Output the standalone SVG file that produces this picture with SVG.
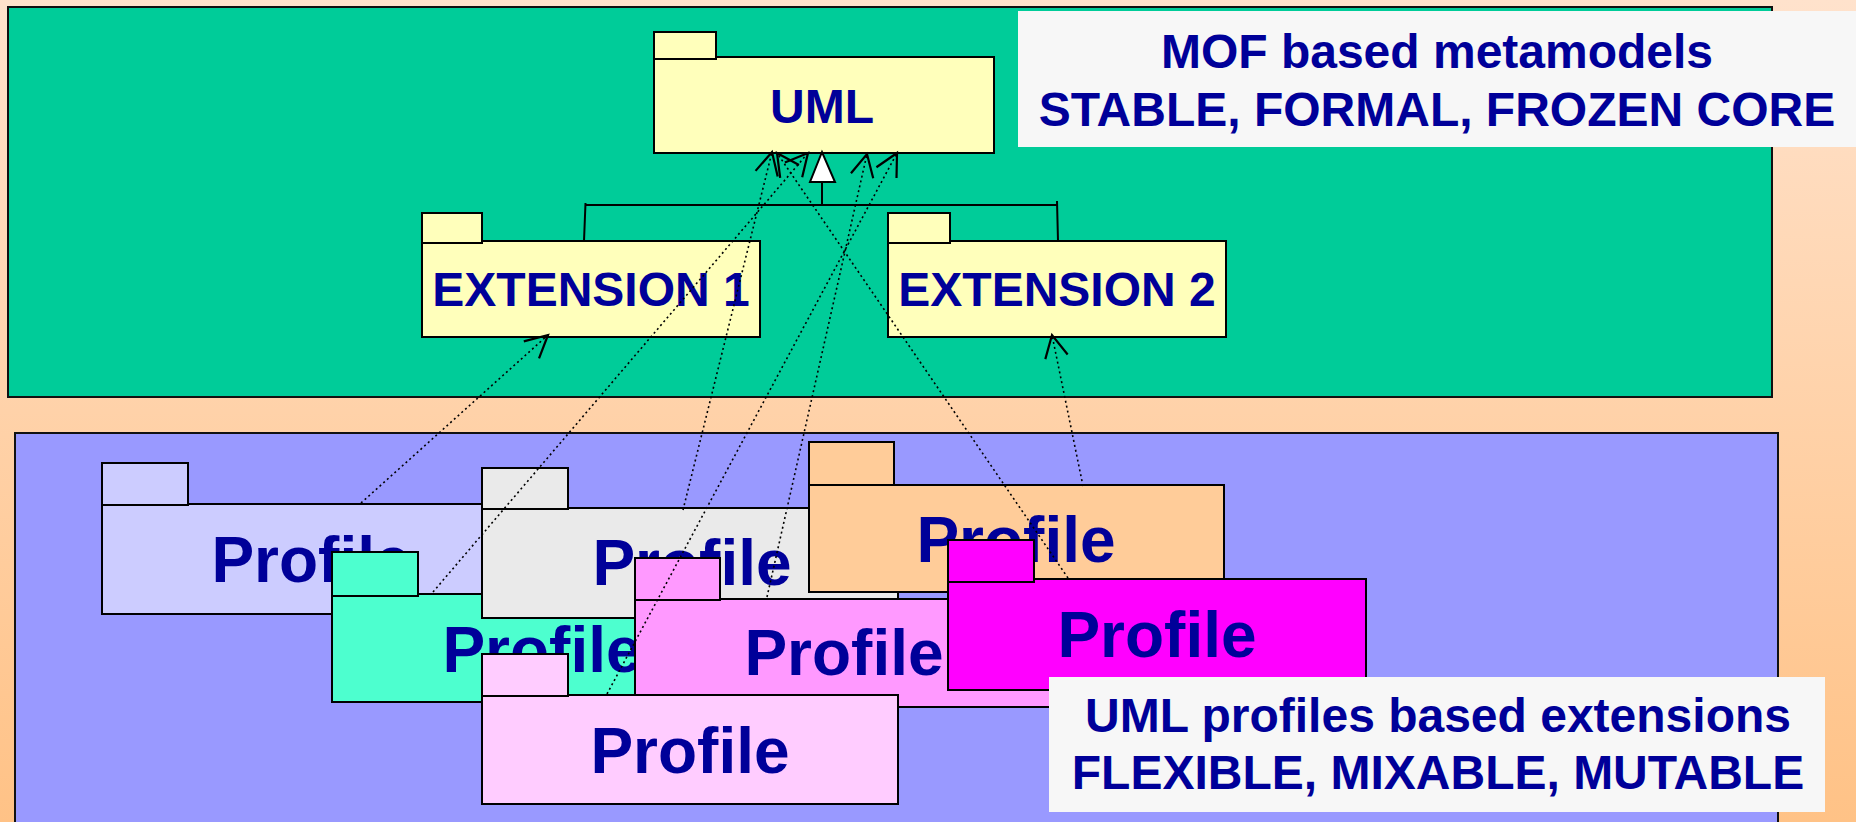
<svg xmlns="http://www.w3.org/2000/svg" width="1856" height="822" viewBox="0 0 1856 822">
  <defs>
    <linearGradient id="bg" x1="0" y1="0" x2="0" y2="1">
      <stop offset="0" stop-color="#FFE2CC"/>
      <stop offset="1" stop-color="#FFC286"/>
    </linearGradient>
    <!-- open "V" arrowhead for dependency arrows -->
    <marker id="open" markerUnits="userSpaceOnUse" viewBox="-30 -16 34 32" markerWidth="34" markerHeight="32" refX="0" refY="0" orient="auto" overflow="visible">
      <path d="M-22.3,-11.4 L0,0 L-22.3,11.4" fill="none" stroke="#000" stroke-width="2.2" stroke-dasharray="none" stroke-linejoin="miter"/>
    </marker>
    <style>
      .panel { stroke: #111; stroke-width: 2; }
      .pkg rect { stroke: #000; stroke-width: 2; }
      .meta rect { fill: #FFFFBB; }
      .lbl { font-family: "Liberation Sans", Arial, sans-serif; font-weight: bold; fill: #000099; text-anchor: middle; }
      .m { font-size: 48px; }
      .p { font-size: 64px; }
      .dep { fill: none; stroke: #000; stroke-width: 1.6; stroke-dasharray: 2 3; marker-end: url(#open); }
      .gen { fill: none; stroke: #000; stroke-width: 2; }
      .note { fill: #F7F7F7; }
    </style>
  </defs>

  <!-- background -->
  <rect x="0" y="0" width="1856" height="822" fill="url(#bg)"/>

  <!-- metamodel layer -->
  <rect class="panel" x="8" y="7" width="1764" height="390" fill="#00CC99"/>
  <!-- profile layer -->
  <rect class="panel" x="15" y="433" width="1763" height="400" fill="#9999FF"/>

  <!-- metamodel packages -->
  <g id="uml" class="pkg meta">
    <rect x="654" y="57" width="340" height="96"/>
    <rect x="654" y="32" width="62" height="27"/>
    <text class="lbl m" x="822" y="123">UML</text>
  </g>
  <g id="ext1" class="pkg meta">
    <rect x="422" y="241" width="338" height="96"/>
    <rect x="422" y="213" width="60" height="30"/>
    <text class="lbl m" x="591" y="306">EXTENSION 1</text>
  </g>
  <g id="ext2" class="pkg meta">
    <rect x="888" y="241" width="338" height="96"/>
    <rect x="888" y="213" width="62" height="30"/>
    <text class="lbl m" x="1057" y="306">EXTENSION 2</text>
  </g>

  <!-- profile packages, back to front -->
  <g id="profile1" class="pkg">
    <rect x="102" y="504" width="418" height="110" fill="#CCCCFF"/>
    <rect x="102" y="463" width="86" height="42" fill="#CCCCFF"/>
    <text class="lbl p" x="311" y="582">Profile</text>
  </g>
  <g id="profile2" class="pkg">
    <rect x="332" y="594" width="416" height="108" fill="#4DFFCF"/>
    <rect x="332" y="552" width="86" height="44" fill="#4DFFCF"/>
    <text class="lbl p" x="542" y="672">Profile</text>
  </g>
  <g id="profile3" class="pkg">
    <rect x="482" y="508" width="416" height="110" fill="#EAEAEA"/>
    <rect x="482" y="468" width="86" height="41" fill="#EAEAEA"/>
    <text class="lbl p" x="692" y="585">Profile</text>
  </g>
  <g id="profile4" class="pkg">
    <rect x="809" y="485" width="415" height="107" fill="#FFCC99"/>
    <rect x="809" y="442" width="85" height="43" fill="#FFCC99"/>
    <text class="lbl p" x="1016" y="562">Profile</text>
  </g>
  <g id="profile5" class="pkg">
    <rect x="635" y="599" width="416" height="108" fill="#FF99FF"/>
    <rect x="635" y="558" width="85" height="42" fill="#FF99FF"/>
    <text class="lbl p" x="844" y="675">Profile</text>
  </g>
  <g id="profile6" class="pkg">
    <rect x="482" y="695" width="416" height="109" fill="#FFCCFF"/>
    <rect x="482" y="654" width="86" height="42" fill="#FFCCFF"/>
    <text class="lbl p" x="690" y="773">Profile</text>
  </g>
  <g id="profile7" class="pkg">
    <rect x="948" y="579" width="418" height="111" fill="#FF00FF"/>
    <rect x="948" y="540" width="86" height="42" fill="#FF00FF"/>
    <text class="lbl p" x="1157" y="657">Profile</text>
  </g>

  <!-- connectors -->
  <g id="connectors">
    <!-- generalization of the extensions to UML -->
    <path class="gen" d="M822,182 V205 M585,205 H1057 M585.5,203 L584,241 M1057,201 L1058,241"/>
    <polygon points="822,152 810,182 835,182" fill="#FFFFFF" stroke="#000" stroke-width="2"/>
    <!-- profile dependencies -->
    <path class="dep" d="M361,503 L548,335"/>
    <path class="dep" d="M433,592 L808,153"/>
    <path class="dep" d="M683,510 L772,152"/>
    <path class="dep" d="M1083,486 L1052,335"/>
    <path class="dep" d="M767,597 L867,154"/>
    <path class="dep" d="M607,694 L897,153"/>
    <path class="dep" d="M1068,578 L777,153"/>
  </g>

  <!-- captions -->
  <g id="caption-mof">
    <rect class="note" x="1018" y="11" width="838" height="136"/>
    <text class="lbl m" x="1437" y="68">MOF based metamodels</text>
    <text class="lbl m" x="1437" y="126">STABLE, FORMAL, FROZEN CORE</text>
  </g>
  <g id="caption-profiles">
    <rect class="note" x="1049" y="677" width="776" height="135"/>
    <text class="lbl m" x="1438" y="732">UML profiles based extensions</text>
    <text class="lbl m" x="1438" y="789">FLEXIBLE, MIXABLE, MUTABLE</text>
  </g>
</svg>
